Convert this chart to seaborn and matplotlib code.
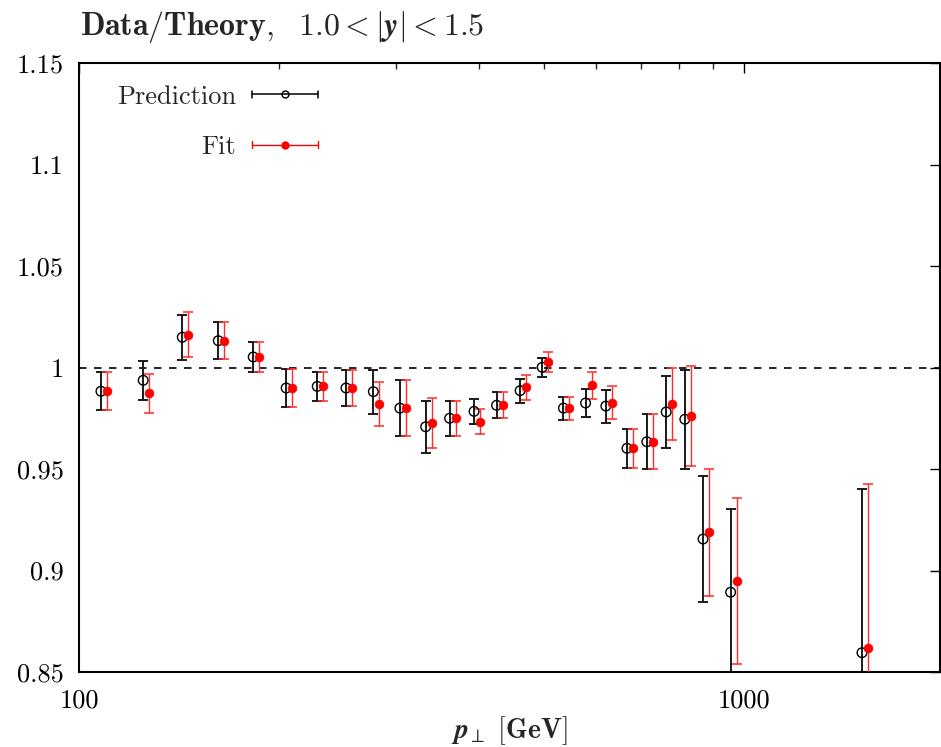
import numpy as np
import pandas as pd
import matplotlib
matplotlib.use("Agg")
import matplotlib.pyplot as plt
import seaborn as sns
from matplotlib.lines import Line2D
from matplotlib.legend_handler import HandlerBase
from matplotlib.ticker import FixedLocator, FuncFormatter, NullFormatter

# ---------------- data ----------------
pt_bins = [107.9, 124.9, 143.0, 162.0, 182.8, 204.9, 228.2, 252.1, 277.1, 303.8,
           332.2, 360.9, 392.8, 424.6, 460.7, 497.3, 535.3, 577.9, 620.0, 667.0,
           714.4, 764.0, 815.0, 868.0, 955.0, 1505.0]

pred_val = [0.9883, 0.9937, 1.0149, 1.0132, 1.0052, 0.9899, 0.9907, 0.9899, 0.9881, 0.9800,
            0.9708, 0.9750, 0.9784, 0.9814, 0.9886, 1.0001, 0.9800, 0.9825, 0.9810, 0.9602,
            0.9634, 0.9781, 0.9745, 0.9155, 0.8893, 0.8595]
pred_err = [0.0094, 0.0097, 0.0112, 0.0090, 0.0074, 0.0092, 0.0073, 0.0088, 0.0109, 0.0136,
            0.0127, 0.0087, 0.0062, 0.0065, 0.0059, 0.0048, 0.0057, 0.0068, 0.0081, 0.0096,
            0.0135, 0.0176, 0.0245, 0.0312, 0.0408, 0.0806]

fit_val = [0.9883, 0.9873, 1.0162, 1.0132, 1.0052, 0.9899, 0.9907, 0.9899, 0.9820, 0.9800,
           0.9727, 0.9750, 0.9733, 0.9814, 0.9902, 1.0029, 0.9800, 0.9912, 0.9827, 0.9602,
           0.9634, 0.9820, 0.9761, 0.9188, 0.8947, 0.8620]
fit_err = [0.0094, 0.0097, 0.0111, 0.0090, 0.0074, 0.0092, 0.0073, 0.0088, 0.0110, 0.0136,
           0.0125, 0.0087, 0.0062, 0.0065, 0.0060, 0.0049, 0.0057, 0.0068, 0.0080, 0.0096,
           0.0135, 0.0176, 0.0246, 0.0312, 0.0409, 0.0808]

y_ticks = [0.85, 0.9, 0.95, 1.0, 1.05, 1.1, 1.15]
x_major = [100, 1000]
series_names = ["Prediction", "Fit"]

fit_shift = 1.021  # small horizontal display offset of the Fit points

# ---------------- style ----------------
sns.set_style("white")
plt.rcParams["font.family"] = ["cmr10", "DejaVu Serif"]
plt.rcParams["mathtext.fontset"] = "cm"
plt.rcParams["axes.formatter.use_mathtext"] = True
plt.rcParams["font.size"] = 19

pred_df = pd.DataFrame({"pt": pt_bins, "val": pred_val, "err": pred_err})
fit_df = pd.DataFrame({"pt": np.array(pt_bins) * fit_shift, "val": fit_val, "err": fit_err})

fig = plt.figure(figsize=(9.41, 7.47), dpi=100)
ax = fig.add_axes([79 / 941, 75 / 747, 861 / 941, 609 / 747])

# reference line
ax.axhline(1.0, color="black", lw=1.2, ls=(0, (4.5, 4.5)), zorder=1)

# error bars
ax.errorbar(pred_df["pt"], pred_df["val"], yerr=pred_df["err"], fmt="none",
            ecolor="#1a1a1a", elinewidth=1.4, capsize=3.3, capthick=1.4, zorder=2)
ax.errorbar(fit_df["pt"], fit_df["val"], yerr=fit_df["err"], fmt="none",
            ecolor="#ff2a2a", elinewidth=1.0, capsize=3.3, capthick=1.1, zorder=3)

# points
sns.scatterplot(data=pred_df, x="pt", y="val", ax=ax, marker="o", s=48,
                facecolor="none", edgecolor="black", linewidth=1.0, zorder=4)
sns.scatterplot(data=fit_df, x="pt", y="val", ax=ax, marker="o", s=40,
                color="red", edgecolor="red", linewidth=0.5, zorder=5)

ax.set_xscale("log")
ax.set_xlim(100, 1972)
ax.set_ylim(0.85, 1.15)

ax.xaxis.set_major_locator(FixedLocator(x_major))
ax.xaxis.set_major_formatter(FuncFormatter(lambda v, p: f"{v:g}"))
ax.xaxis.set_minor_locator(FixedLocator([200, 300, 400, 500, 600, 700, 800, 900, 2000]))
ax.xaxis.set_minor_formatter(NullFormatter())
ax.yaxis.set_major_locator(FixedLocator(y_ticks))
ax.yaxis.set_major_formatter(FuncFormatter(lambda v, p: f"{v:g}"))

ax.tick_params(which="major", direction="in", length=7, width=1.0, top=True, right=True,
               labelsize=19, colors="black")
ax.tick_params(which="minor", direction="in", length=4, width=1.0, top=True, right=True)
ax.tick_params(axis="y", pad=11)
ax.tick_params(axis="x", pad=12)
for s in ax.spines.values():
    s.set_linewidth(1.5)
    s.set_color("black")

ax.set_xlabel(r"$\boldsymbol{p}_{\!\perp}$ $\mathbf{[GeV]}$", fontsize=20, labelpad=1)
ax.set_ylabel("")
fig.text(80 / 941, 1 - 27 / 747,
         r"$\mathbf{Data/Theory,}\ \ \mathbf{1.0} < \boldsymbol{|y|} < \mathbf{1.5}$",
         ha="left", va="center", fontsize=23)


# legend (gnuplot-style key: label, then line with caps and a marker)
class ErrKeyHandler(HandlerBase):
    def create_artists(self, legend, orig_handle, xdescent, ydescent, width, height, fontsize, trans):
        c = orig_handle.get_color()
        lw = orig_handle.get_linewidth()
        y = (height - ydescent) / 2
        x0, x1 = -xdescent, -xdescent + width
        cap = 2.6
        arts = [
            Line2D([x0, x1], [y, y], color=c, lw=lw),
            Line2D([x0, x0], [y - cap, y + cap], color=c, lw=lw),
            Line2D([x1, x1], [y - cap, y + cap], color=c, lw=lw),
            Line2D([(x0 + x1) / 2], [y], ls="none", marker="o",
                   ms=orig_handle.get_markersize(),
                   mfc=orig_handle.get_markerfacecolor(),
                   mec=orig_handle.get_markeredgecolor(), mew=1.0),
        ]
        for a in arts:
            a.set_transform(trans)
        return arts


h_pred = Line2D([], [], color="black", lw=1.1, marker="o", ms=5, mfc="none", mec="black")
h_fit = Line2D([], [], color="red", lw=1.0, marker="o", ms=5, mfc="red", mec="red")
ax.legend(handles=[h_pred, h_fit], labels=series_names, handler_map={Line2D: ErrKeyHandler()},
          markerfirst=False, frameon=False, loc="upper left",
          bbox_to_anchor=((117 - 79) / 861, (672 - 85) / 609), borderaxespad=0, borderpad=0,
          handlelength=2.5, handletextpad=0.6, labelspacing=1.0, fontsize=19)

fig.savefig("out.png", dpi=100)
